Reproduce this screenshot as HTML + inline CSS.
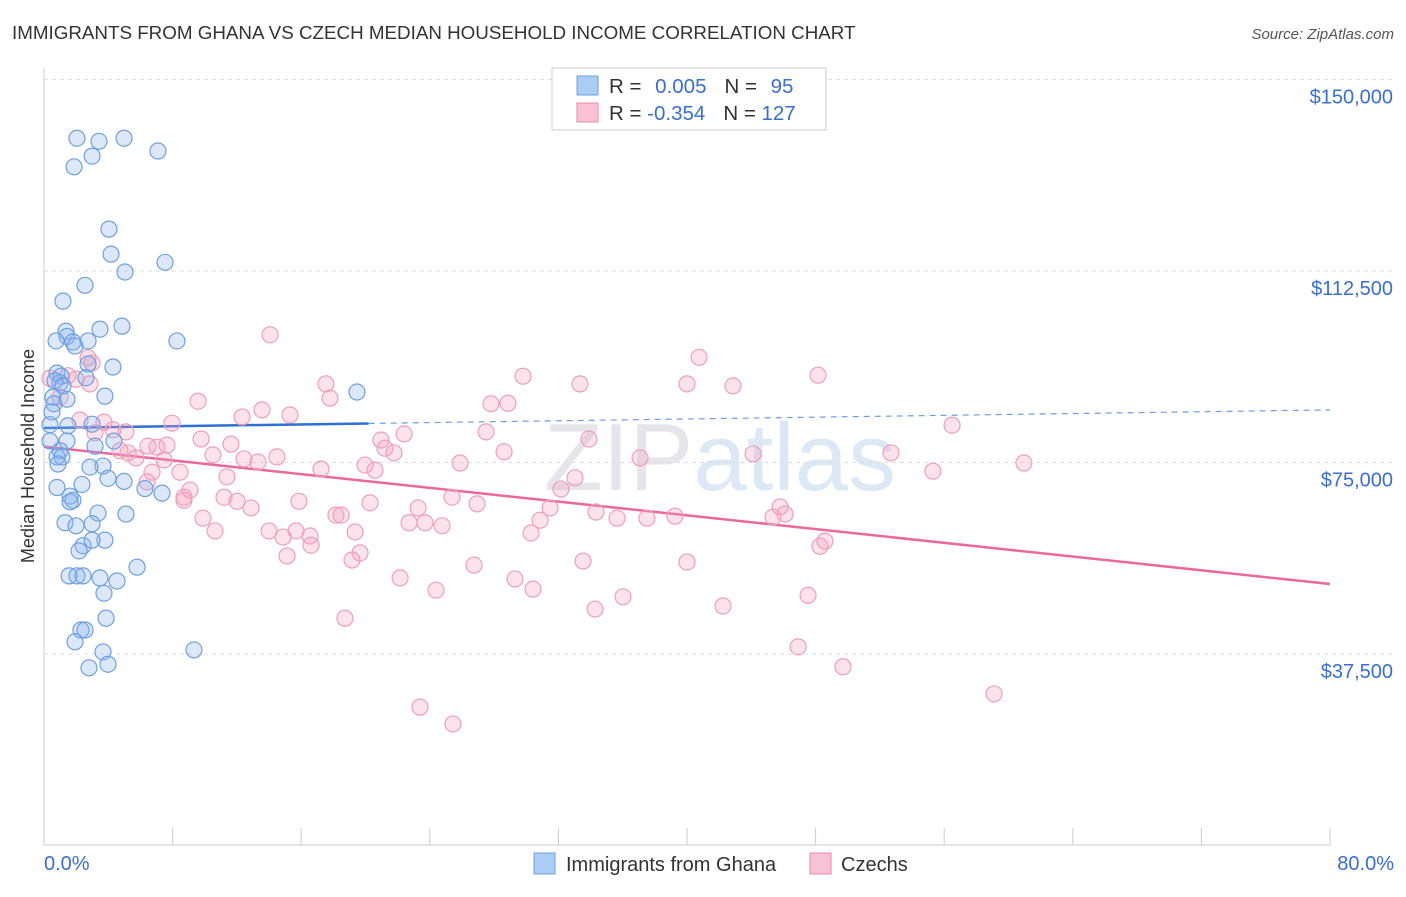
<!DOCTYPE html>
<html><head><meta charset="utf-8"><style>
body{margin:0;background:#fff;font-family:"Liberation Sans",sans-serif;}
svg text{font-family:"Liberation Sans",sans-serif;}
</style></head><body>
<svg id="chart" width="1406" height="892" xmlns="http://www.w3.org/2000/svg">
<text x="12" y="39" font-size="18.8" fill="#333">IMMIGRANTS FROM GHANA VS CZECH MEDIAN HOUSEHOLD INCOME CORRELATION CHART</text>
<text x="1394" y="39" font-size="15" fill="#555" font-style="italic" text-anchor="end">Source: ZipAtlas.com</text>
<text x="720" y="490" font-size="96" fill="#e6e6ea" text-anchor="middle" font-family="Liberation Serif">ZIP<tspan fill="#dde8f5" font-family="Liberation Sans">atlas</tspan></text>
<text transform="translate(34,456) rotate(-90)" font-size="18" fill="#333" text-anchor="middle">Median Household Income</text>
<g id="grid"></g><g id="trends"></g><g id="pts"></g>
<text x="44" y="870" font-size="20" fill="#3a6fd0">0.0%</text>
<text x="1394" y="870" font-size="20" fill="#3a6fd0" text-anchor="end">80.0%</text>
<g>
<rect x="552" y="68" width="274" height="62" fill="#fff" stroke="#ccc"/>
<rect x="577" y="76" width="21" height="19" fill="#aaccf5" stroke="#6f9fe0"/>
<rect x="577" y="103" width="21" height="19" fill="#f8c2d4" stroke="#e98aab"/>
<text x="609" y="93" font-size="20.5" fill="#333">R = <tspan fill="#3a6fd0" dx="8">0.005</tspan><tspan dx="18">N = </tspan><tspan fill="#3a6fd0" dx="8">95</tspan></text>
<text x="609" y="120" font-size="20.5" fill="#333">R = <tspan fill="#3a6fd0">-0.354</tspan><tspan dx="18">N = </tspan><tspan fill="#3a6fd0">127</tspan></text>
</g>
<rect x="534" y="853" width="21" height="21" fill="#aaccf5" stroke="#6f9fe0"/>
<text x="566" y="871" font-size="20" fill="#333">Immigrants from Ghana</text>
<rect x="810" y="853" width="21" height="21" fill="#f8c2d4" stroke="#e98aab"/>
<text x="841" y="871" font-size="20" fill="#333">Czechs</text>
</svg>
<script>
const yTicks=[37500,75000,112500,150000];
const yTickLabels=["$37,500","$75,000","$112,500","$150,000"];
const xTicks=[0,8,16,24,32,40,48,56,64,72,80];
const ghanaX=[2.05,3.42,4.98,7.09,1.87,2.99,4.04,4.17,5.04,7.53,2.55,1.18,4.85,3.48,1.37,1.43,0.75,1.80,2.74,8.27,1.93,4.29,2.74,0.81,1.06,1.00,0.68,2.61,1.18,19.47,3.79,0.56,0.62,1.43,0.50,0.37,1.49,2.99,4.35,0.37,1.43,3.17,1.00,0.81,1.12,3.67,2.86,0.87,3.98,4.98,2.36,0.81,6.28,7.34,1.62,1.80,1.62,3.36,5.10,1.31,2.99,1.99,2.43,3.79,2.99,2.18,5.79,1.56,2.05,2.43,3.48,4.54,3.73,3.86,2.30,2.55,1.93,9.33,3.67,2.80,3.98];
const ghanaY=[138.5,137.9,138.5,136.0,132.9,135.0,120.7,115.8,112.3,114.2,109.7,106.6,101.7,101.1,100.7,99.7,98.8,98.6,98.8,98.8,97.8,93.7,94.3,92.5,91.9,90.6,91.0,91.6,90.0,88.8,88.0,87.8,86.5,87.4,84.9,82.4,82.2,82.5,79.2,79.2,79.2,78.2,77.3,76.1,76.1,74.3,74.1,74.7,71.9,71.3,70.7,70.1,69.9,69.0,68.4,67.6,67.3,65.1,64.9,63.2,63.0,62.6,58.7,59.8,59.8,57.7,54.5,52.8,52.8,52.8,52.4,51.8,49.4,44.5,42.2,42.2,39.9,38.3,37.9,34.8,35.5];
const czechX=[14.06,2.74,2.99,1.49,1.99,2.86,0.37,17.54,29.80,33.34,40.75,40.00,42.86,48.15,17.79,27.81,28.86,13.56,15.30,9.58,12.32,7.96,3.73,3.17,5.10,2.24,56.49,20.96,22.40,21.21,21.77,27.50,33.90,6.47,7.03,7.65,9.77,11.63,4.73,5.23,5.72,7.47,10.51,12.44,13.31,14.49,17.23,19.97,20.59,25.88,28.62,37.08,44.11,52.69,55.30,60.96,6.72,8.46,6.41,9.08,8.71,11.38,8.71,11.20,12.01,12.88,15.86,18.48,18.16,20.28,23.27,25.38,26.94,32.16,33.03,31.48,34.34,35.65,37.51,39.25,45.79,46.10,45.35,9.89,10.64,14.00,14.87,15.68,16.55,16.61,19.35,22.71,23.70,24.76,30.30,30.86,48.27,48.58,15.12,19.16,19.66,26.75,33.53,40.00,22.15,29.30,24.39,30.42,34.28,36.02,42.24,47.53,18.72,46.91,49.70,59.10,23.39,25.44,4.29,1.00];
const czechY=[100.0,95.5,94.5,92.0,91.3,90.4,91.5,90.4,91.9,90.4,95.6,90.4,90.0,92.1,87.6,86.5,86.6,85.3,84.3,87.0,83.9,82.7,82.9,80.8,81.0,83.3,82.3,79.4,80.6,77.8,76.9,81.0,79.6,78.2,78.0,78.4,79.6,78.6,77.3,76.9,75.9,75.5,76.5,75.7,75.1,76.1,73.7,74.5,73.5,74.9,77.1,75.9,76.7,76.9,73.3,74.9,73.1,73.1,71.2,69.6,68.2,72.2,67.6,68.2,67.4,66.1,67.4,64.7,64.7,67.1,66.1,68.2,66.9,69.8,72.0,66.1,65.3,64.1,64.1,64.5,66.3,64.9,64.3,64.1,61.6,61.6,60.4,61.6,60.6,58.8,61.4,63.2,63.2,62.6,61.2,63.7,58.6,59.6,56.7,55.9,57.3,54.9,55.7,55.5,52.4,52.2,50.0,50.2,46.3,48.7,46.9,49.0,44.5,38.9,35.0,29.7,27.1,23.8,81.4,87.8];
const ghanaTrend=[0,81.75,80,85.3];
const czechTrend=[0,78.1,80,51.2];
const ghanaSolidEnd=20.2;

const NS="http://www.w3.org/2000/svg";
const X=v=>44+v/80*1286;
const Y=k=>845.5-k*1000/37500*191.5;
function mk(t,a,p){const e=document.createElementNS(NS,t);for(const k in a)e.setAttribute(k,a[k]);p.appendChild(e);return e;}
const grid=document.getElementById('grid');
const ax=mk('line',{x1:44,y1:68,x2:44,y2:845,stroke:'#ccc'},grid);


const bx=mk('line',{x1:44,y1:845,x2:1330,y2:845,stroke:'#ccc'},grid);


yTicks.forEach((v,i)=>{
 const g=mk('line',{x1:44,x2:1394,y1:Y(v/1000),y2:Y(v/1000),stroke:'#ddd','stroke-dasharray':'4,4'},grid);
 
 
 const t=mk('text',{x:1393,y:Y(v/1000)+24,'font-size':20,fill:'#3a6fd0','text-anchor':'end'},grid);
 t.textContent=yTickLabels[i];
 
 
});
xTicks.forEach(v=>{
 const l=mk('line',{x1:X(v),x2:X(v),y1:828,y2:845,stroke:'#ccc'},grid);
 
 
});
const tr=document.getElementById('trends');
const l1=mk('line',{x1:X(ghanaTrend[0]),y1:Y(ghanaTrend[1]),x2:X(ghanaSolidEnd),y2:Y(ghanaTrend[1]+(ghanaTrend[3]-ghanaTrend[1])*ghanaSolidEnd/80),stroke:'#2f6fd6','stroke-width':2.5},tr);


const l2=mk('line',{x1:X(ghanaSolidEnd),y1:Y(ghanaTrend[1]+(ghanaTrend[3]-ghanaTrend[1])*ghanaSolidEnd/80),x2:X(ghanaTrend[2]),y2:Y(ghanaTrend[3]),stroke:'#6f9fe0','stroke-width':1.2,'stroke-dasharray':'6,5'},tr);


const l3=mk('line',{x1:X(czechTrend[0]),y1:Y(czechTrend[1]),x2:X(czechTrend[2]),y2:Y(czechTrend[3]),stroke:'#e8699a','stroke-width':2.5},tr);


const pts=document.getElementById('pts');
czechX.forEach((x,i)=>{
 const c=mk('circle',{cx:X(x),cy:Y(czechY[i]),r:8,fill:'rgba(244,160,190,0.3)',stroke:'#eda0bb','stroke-width':1.2},pts);
 
 
});
ghanaX.forEach((x,i)=>{
 const c=mk('circle',{cx:X(x),cy:Y(ghanaY[i]),r:8,fill:'rgba(140,180,240,0.3)',stroke:'#6f9fe0','stroke-width':1.2},pts);
 
 
});
</script>
</body></html>
